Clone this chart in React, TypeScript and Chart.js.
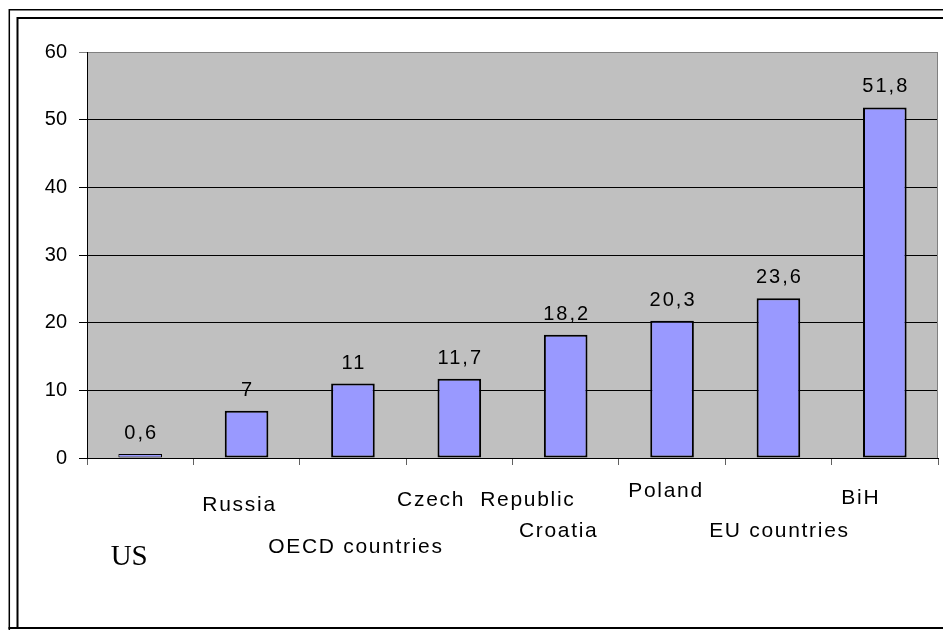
import React, { useEffect, useRef } from "react";
import { Chart, registerables } from "chart.js";

Chart.register(...registerables);

const categories = ["US", "Russia", "OECD countries", "Czech  Republic", "Croatia", "Poland", "EU countries", "BiH"];
const values = [0.6, 7, 11, 11.7, 18.2, 20.3, 23.6, 51.8];
const yTicks = [0, 10, 20, 30, 40, 50, 60];

// label placement offsets (style): relative to category centre and axis line
const labelDx = [-12, -8, 2, 26, -8, -7, 0, -25];
const labelDy = [107, 53, 95, 48, 79, 39, 79, 46];

const framePlugin = {
  id: "frame",
  beforeDraw(chart: any) {
    const { ctx, chartArea: a, width, height } = chart;
    ctx.save();
    ctx.fillStyle = "#ffffff";
    ctx.fillRect(0, 0, width, height);
    ctx.fillStyle = "#c0c0c0";
    ctx.fillRect(a.left, a.top, a.right - a.left, a.bottom - a.top);
    ctx.strokeStyle = "#000";
    ctx.lineWidth = 1.5;
    ctx.beginPath();
    ctx.moveTo(9.3, height);
    ctx.lineTo(9.3, 9.8);
    ctx.lineTo(width, 9.8);
    ctx.stroke();
    ctx.lineWidth = 2;
    ctx.beginPath();
    ctx.moveTo(17.5, 628);
    ctx.lineTo(17.5, 18);
    ctx.lineTo(width, 18);
    ctx.stroke();
    ctx.beginPath();
    ctx.moveTo(8.5, 628);
    ctx.lineTo(width, 628);
    ctx.stroke();
    ctx.restore();
  },
  afterDraw(chart: any) {
    const { ctx, chartArea: a } = chart;
    const xs = chart.scales.x;
    ctx.save();
    ctx.strokeStyle = "#808080";
    ctx.lineWidth = 1;
    ctx.beginPath();
    ctx.moveTo(a.right - 0.5, a.top);
    ctx.lineTo(a.right - 0.5, a.bottom);
    ctx.stroke();

    // value labels
    const meta = chart.getDatasetMeta(0);
    ctx.fillStyle = "#000";
    ctx.textAlign = "center";
    ctx.textBaseline = "alphabetic";
    ctx.font = '20px "Liberation Sans", Arial, sans-serif';
    (ctx as any).letterSpacing = "2px";
    meta.data.forEach((bar: any, i: number) => {
      const txt = String(values[i]).replace(".", ",");
      ctx.fillText(txt, bar.x + 1, bar.y - 15);
    });

    // category labels
    categories.forEach((c, i) => {
      const x = xs.getPixelForValue(i) + labelDx[i];
      const y = a.bottom + labelDy[i];
      if (i === 0) {
        (ctx as any).letterSpacing = "0px";
        ctx.font = '29px "Liberation Serif", "Times New Roman", serif';
      } else {
        (ctx as any).letterSpacing = "1.7px";
        ctx.font = '21px "Liberation Sans", Arial, sans-serif';
      }
      ctx.fillText(c, x + 1, y);
    });
    ctx.restore();
  },
};

export default function App() {
  const ref = useRef<HTMLCanvasElement>(null);
  useEffect(() => {
    if (!ref.current) return;
    const chart = new Chart(ref.current, {
      type: "bar",
      data: {
        labels: categories,
        datasets: [
          {
            data: values,
            backgroundColor: "#9999ff",
            borderColor: "#000000",
            borderWidth: (c: any) => (c.raw !== undefined && c.raw < 2 ? 1 : 2),
            borderSkipped: false,
            barPercentage: 0.41,
            categoryPercentage: 1,
          },
        ],
      },
      options: {
        animation: false,
        responsive: false,
        devicePixelRatio: 1,
        layout: { padding: { top: 52, right: 5, left: 0, bottom: 0 } },
        plugins: { legend: { display: false }, tooltip: { enabled: false }, title: { display: false } },
        scales: {
          x: {
            afterFit(scale: any) {
              scale.height = 172;
            },
            ticks: { display: false },
            grid: {
              offset: true,
              drawOnChartArea: false,
              drawTicks: true,
              tickLength: 7,
              color: "#606060",
            },
            border: { display: true, color: "#000", width: 1 },
          },
          y: {
            min: 0,
            max: 60,
            afterFit(scale: any) {
              scale.width = 87;
            },
            afterBuildTicks(scale: any) {
              scale.ticks = yTicks.map((v) => ({ value: v }));
            },
            ticks: {
              stepSize: 10,
              padding: 12,
              color: "#000",
              font: { family: '"Liberation Sans", Arial, sans-serif', size: 20 },
            },
            grid: {
              color: (c: any) => (c.tick && c.tick.value === 60 ? "#808080" : "#000000"),
              tickLength: 8,
              lineWidth: 1,
            },
            border: { display: true, color: "#000", width: 1 },
          },
        },
      },
      plugins: [framePlugin],
    });
    return () => chart.destroy();
  }, []);
  return (
    <div style={{ position: "absolute", left: 0, top: 0, width: 943, height: 630 }}>
      <canvas ref={ref} width={943} height={630} style={{ display: "block" }} />
    </div>
  );
}
